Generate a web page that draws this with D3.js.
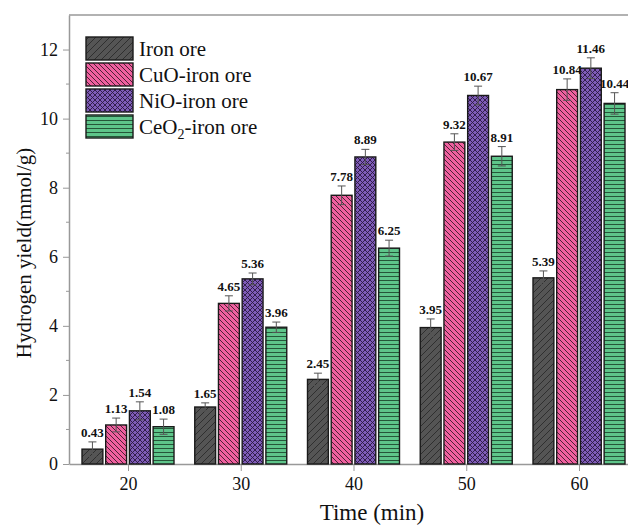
<!DOCTYPE html>
<html>
<head>
<meta charset="utf-8">
<script src="https://cdn.jsdelivr.net/npm/d3@7"></script>
<style>
  body { margin: 0; background: #fff; }
</style>
</head>
<body>
<div id="chart"></div>
<script>
// Data
var times = [20, 30, 40, 50, 60];
var series = ["Iron ore", "CuO-iron ore", "NiO-iron ore", "CeO2-iron ore"];
var ironOre = [0.43, 1.65, 2.45, 3.95, 5.39];
var cuoOre  = [1.13, 4.65, 7.78, 9.32, 10.84];
var nioOre  = [1.54, 5.36, 8.89, 10.67, 11.46];
var ceoOre  = [1.08, 3.96, 6.25, 8.91, 10.44];
var ironErr = [0.21, 0.12, 0.18, 0.25, 0.2];
var cuoErr  = [0.2, 0.22, 0.27, 0.24, 0.31];
var nioErr  = [0.26, 0.17, 0.22, 0.27, 0.3];
var ceoErr  = [0.22, 0.15, 0.23, 0.28, 0.31];
var yTicks = [0, 2, 4, 6, 8, 10, 12];

var values = [ironOre, cuoOre, nioOre, ceoOre];
var errors = [ironErr, cuoErr, nioErr, ceoErr];

var serif = "'Liberation Serif', 'Times New Roman', serif";
var W = 628, H = 531;
var svg = d3.select("#chart").append("svg")
    .attr("width", W)
    .attr("height", H);

// patterns for the hatched bars
var defs = svg.append("defs");
var fills = ["#555555", "#f0609f", "#7f5cb8", "#5ec58a"];
var inks  = ["#2a2a2a", "#3a1a2a", "#2a1a40", "#1f4a30"];

function pattern(id, size, bg, ink, paths) {
  var p = defs.append("pattern")
      .attr("id", id)
      .attr("patternUnits", "userSpaceOnUse")
      .attr("width", size)
      .attr("height", size);
  p.append("rect").attr("width", size).attr("height", size).attr("fill", bg);
  paths.forEach(function(d) {
    p.append("path").attr("d", d).attr("stroke", ink).attr("stroke-width", 0.9).attr("fill", "none");
  });
}
pattern("p0", 7, fills[0], inks[0], ["M0,7 L7,0", "M-1,1 L1,-1", "M6,8 L8,6"]);
pattern("p1", 5, fills[1], inks[1], ["M0,0 L5,5", "M-1,4 L1,6", "M4,-1 L6,1"]);
pattern("p2", 5, fills[2], inks[2], ["M0,0 L5,5", "M0,5 L5,0"]);
pattern("p3", 4, fills[3], inks[3], ["M0,0.5 L4,0.5"]);

var x = d3.scaleLinear()
    .domain([14.767, 65.233])
    .range([69, 638]);

var y = d3.scaleLinear()
    .domain([0, 13])
    .range([464, 15]);

var inner = d3.scaleBand()
    .domain(d3.range(series.length))
    .range([-46, 46])
    .paddingInner(0.12);

// frame top line
svg.append("line")
    .attr("x1", 69).attr("x2", W)
    .attr("y1", y(13)).attr("y2", y(13))
    .attr("stroke", "#999").attr("stroke-width", 1.5);

// axes
var xAxis = d3.axisBottom(x).tickValues(times).tickSize(7).tickSizeOuter(0).tickPadding(6).tickFormat(d3.format("d"));
var yAxis = d3.axisLeft(y).tickValues(yTicks).tickSize(6).tickSizeOuter(0).tickPadding(5);

var gx = svg.append("g")
    .attr("transform", "translate(0," + y(0) + ")")
    .call(xAxis);
var gy = svg.append("g")
    .attr("transform", "translate(69,0)")
    .call(yAxis);

[gx, gy].forEach(function(g) {
  g.attr("font-family", null).attr("font-size", null);
  g.select(".domain").attr("stroke", "#999").attr("stroke-width", 1.5);
  g.selectAll(".tick line").attr("stroke", "#999");
  g.selectAll(".tick text")
      .attr("fill", "#111")
      .style("font-size", "18px");
});

// minor y ticks
svg.append("g").selectAll("line")
    .data([1, 3, 5, 7, 9, 11])
    .enter().append("line")
    .attr("x1", 66).attr("x2", 69)
    .attr("y1", function(d) { return y(d); })
    .attr("y2", function(d) { return y(d); })
    .attr("stroke", "#999");

// bars
var groups = svg.append("g").selectAll("g")
    .data(series)
    .enter().append("g");

groups.each(function(name, s) {
  var g = d3.select(this);
  var rows = times.map(function(t, i) { return {t: t, v: values[s][i], e: errors[s][i]}; });
  var cx = function(d) { return x(d.t) + inner(s) + inner.bandwidth() / 2; };

  g.selectAll("rect")
      .data(rows)
      .enter().append("rect")
      .attr("x", function(d) { return x(d.t) + inner(s); })
      .attr("y", function(d) { return y(d.v); })
      .attr("width", inner.bandwidth())
      .attr("height", function(d) { return y(0) - y(d.v); })
      .attr("fill", "url(#p" + s + ")")
      .attr("stroke", "#1a1a1a")
      .attr("stroke-width", 1.4);

  // error bars
  var eb = g.selectAll(".err")
      .data(rows)
      .enter().append("g")
      .attr("class", "err")
      .attr("stroke", "#555")
      .attr("stroke-width", 1);
  eb.append("line")
      .attr("x1", cx).attr("x2", cx)
      .attr("y1", function(d) { return y(d.v - d.e); })
      .attr("y2", function(d) { return y(d.v + d.e); });
  [1, -1].forEach(function(sign) {
    eb.append("line")
        .attr("x1", function(d) { return cx(d) - 4; })
        .attr("x2", function(d) { return cx(d) + 4; })
        .attr("y1", function(d) { return y(d.v + sign * d.e); })
        .attr("y2", function(d) { return y(d.v + sign * d.e); });
  });

  // value labels
  g.selectAll(".lbl")
      .data(rows)
      .enter().append("text")
      .attr("class", "lbl")
      .attr("x", cx)
      .attr("y", function(d) { return y(d.v + d.e) - 5; })
      .attr("text-anchor", "middle")
      .style("font-size", "13px")
      .style("font-weight", "bold")
      .attr("fill", "#111")
      .text(function(d) { return d.v.toFixed(2); });
});

// legend
var legend = svg.append("g");
series.forEach(function(name, s) {
  var ly = 37 + s * 26;
  legend.append("rect")
      .attr("x", 86).attr("y", ly)
      .attr("width", 47).attr("height", 23)
      .attr("fill", "url(#p" + s + ")")
      .attr("stroke", "#1a1a1a")
      .attr("stroke-width", 1.4);
  var t = legend.append("text")
      .attr("x", 139).attr("y", ly + 19)
      .style("font-size", "21px")
      .attr("fill", "#111");
  if (name.indexOf("CeO2") === 0) {
    t.append("tspan").text("CeO");
    t.append("tspan").attr("dy", 5).style("font-size", "14px").text("2");
    t.append("tspan").attr("dy", -5).text("-iron ore");
  } else {
    t.text(name);
  }
});

// axis titles
svg.append("text")
    .attr("x", 372).attr("y", 520)
    .attr("text-anchor", "middle")
    .style("font-size", "23px")
    .attr("fill", "#111")
    .text("Time (min)");

svg.append("text")
    .attr("transform", "translate(31,253) rotate(-90)")
    .attr("text-anchor", "middle")
    .style("font-size", "21px")
    .attr("fill", "#111")
    .text("Hydrogen yield(mmol/g)");

// every text in Times-like serif
svg.selectAll("text").style("font-family", serif);
</script>
</body>
</html>
